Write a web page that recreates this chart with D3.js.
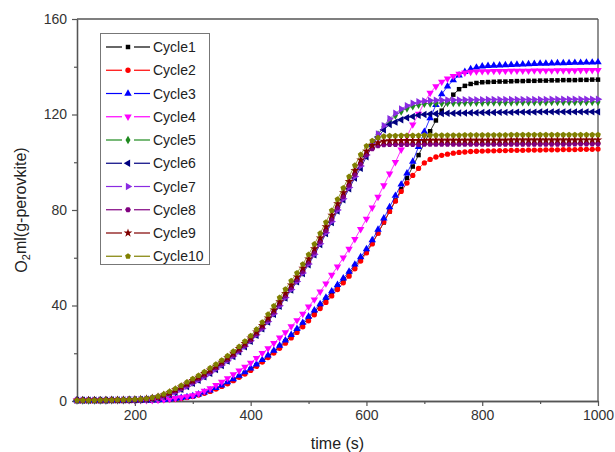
<!DOCTYPE html>
<html>
<head>
<meta charset="utf-8">
<script src="https://cdn.jsdelivr.net/npm/d3@7"></script>
<style>
	body { margin: 0; background: #fff; }
	svg { display: block; font-family: Arial, "Liberation Sans", sans-serif; }
</style>
</head>
<body>
<div id="chart"></div>
<script>

// time points (s)
const times = [100,110,120,130,140,150,160,170,180,190,200,210,220,230,240,250,260,270,280,290,
	300,310,320,330,340,350,360,370,380,390,400,410,420,430,440,450,460,470,480,490,
	500,510,520,530,540,550,560,570,580,590,600,610,620,630,640,650,660,670,680,690,
	700,710,720,730,740,750,760,770,780,790,800,810,820,830,840,850,860,870,880,890,
	900,910,920,930,940,950,960,970,980,990,1000];

// O2 ml/(g-perovkite)
const cycle1 = [0.3,0.3,0.3,0.3,0.3,0.3,0.3,0.3,0.3,0.3,0.3,0.3,0.3,0.3,
	0.4,0.5,0.7,0.9,1.2,1.6,2.0,2.6,3.4,4.2,5.2,6.3,7.5,8.8,10.2,11.7,13.2,14.9,16.7,18.6,
	20.6,22.7,24.9,27.2,29.6,32.1,34.7,37.3,39.9,42.5,45.2,47.9,50.6,53.4,56.3,59.4,
	62.6,66.2,70.3,74.8,79.4,84.0,88.7,93.4,98.2,103.0,108.0,113.0,117.5,121.6,125.3,128.3,
	130.6,132.0,132.8,133.2,133.5,
	133.6,133.7,133.8,133.8,133.9,134.0,134.0,134.1,134.1,134.2,134.2,134.3,134.3,134.4,134.4,134.4,134.5,134.5,134.6,134.6];
const cycle2 = [0.3,0.3,0.3,0.3,0.3,0.3,0.3,0.3,0.3,0.3,0.3,0.3,0.3,0.3,
	0.4,0.5,0.6,0.8,1.1,1.5,1.9,2.5,3.2,4.0,5.0,6.1,7.2,8.5,9.9,11.3,12.8,14.5,16.3,18.2,
	20.1,22.1,24.2,26.4,28.7,31.1,33.6,36.1,38.7,41.3,44.0,46.7,49.5,52.3,55.4,58.6,
	62.0,65.8,70.3,75.0,79.4,83.7,87.8,91.3,94.5,97.4,99.7,101.2,102.2,102.9,103.4,103.8,
	104.1,104.3,104.5,104.6,104.7,
	104.8,104.8,104.9,104.9,105.0,105.0,105.0,105.1,105.1,105.1,105.2,105.2,105.2,105.3,105.3,105.3,105.4,105.4,105.4,105.5];
const cycle3 = [0.3,0.3,0.3,0.3,0.3,0.3,0.3,0.3,0.3,0.3,0.3,0.3,0.3,0.3,
	0.4,0.5,0.7,1.0,1.3,1.7,2.1,2.8,3.6,4.5,5.5,6.6,7.9,9.2,10.6,12.1,13.7,15.4,17.2,19.1,
	21.1,23.2,25.4,27.7,30.2,32.8,35.4,38.0,40.6,43.3,46.0,48.7,51.4,54.2,57.2,60.3,
	63.6,67.4,71.8,76.5,81.2,86.0,90.7,95.4,100.3,106.5,112.8,118.5,124.0,128.5,131.8,134.4,
	136.4,137.9,139.0,139.7,140.2,
	140.4,140.5,140.6,140.7,140.8,140.9,141.0,141.1,141.2,141.3,141.3,141.4,141.5,141.5,141.6,141.7,141.7,141.8,141.8,141.9];
const cycle4 = [0.3,0.3,0.3,0.3,0.3,0.3,0.3,0.3,0.3,0.3,0.3,0.3,0.3,0.3,
	0.4,0.6,0.9,1.2,1.5,1.9,2.3,3.2,4.2,5.3,6.6,8.0,9.5,11.1,12.7,14.3,16.0,18.0,20.0,22.0,
	24.2,26.5,28.7,31.2,33.8,36.5,39.5,42.5,45.8,49.2,52.8,56.3,60.0,63.7,67.8,72.0,
	76.3,81.0,85.5,90.3,95.2,100.0,105.3,110.8,115.8,120.3,125.0,129.0,131.8,133.7,135.0,136.1,
	137.0,137.5,137.8,138.0,138.1,
	138.1,138.2,138.2,138.2,138.3,138.3,138.3,138.3,138.4,138.4,138.4,138.4,138.5,138.5,138.5,138.5,138.6,138.6,138.6,138.6];
const cycle5 = [0.3,0.3,0.3,0.3,0.3,0.3,0.4,0.4,0.4,0.5,0.5,0.6,
	0.8,1.1,1.5,2.1,3.0,4.0,5.2,6.5,7.8,9.2,10.6,12.1,13.7,15.4,17.2,19.1,21.1,23.2,25.5,28.0,
	30.7,33.6,36.8,40.2,43.6,47.0,50.4,53.9,57.7,61.8,66.2,70.8,75.5,80.3,85.0,89.7,94.4,99.0,
	103.5,107.8,111.6,114.8,117.5,119.6,121.3,122.6,123.5,124.1,124.5,124.7,
	124.8,124.8,124.9,124.9,124.9,125.0,125.0,125.0,125.0,125.1,125.1,125.1,125.1,125.1,125.2,
	125.2,125.2,125.2,125.2,125.2,125.3,125.3,125.3,125.3,125.3,125.3,125.3,125.3,125.3];
const cycle6 = [0.3,0.3,0.3,0.3,0.3,0.3,0.4,0.4,0.4,0.5,0.5,0.6,
	0.7,1.0,1.4,1.9,2.7,3.7,4.9,6.1,7.4,8.7,10.1,11.6,13.2,14.9,16.7,18.6,20.6,22.7,25.0,27.5,
	30.2,33.1,36.3,39.7,43.1,46.5,49.9,53.4,57.1,61.2,65.5,70.1,74.8,79.6,84.3,88.9,93.4,97.5,
	102.3,106.8,110.6,113.6,115.8,116.8,117.8,118.6,119.2,119.7,120.0,120.2,
	120.3,120.4,120.5,120.5,120.6,120.6,120.7,120.7,120.8,120.8,120.8,120.9,120.9,120.9,121.0,
	121.0,121.0,121.0,121.1,121.1,121.1,121.1,121.1,121.1,121.1,121.1,121.1,121.1,121.1];
const cycle7 = [0.3,0.3,0.3,0.3,0.3,0.3,0.4,0.4,0.4,0.5,0.5,0.6,
	0.7,1.0,1.4,2.0,2.8,3.8,5.0,6.2,7.5,8.9,10.3,11.8,13.4,15.1,16.9,18.8,20.8,22.9,25.2,27.7,
	30.4,33.3,36.5,39.9,43.3,46.7,50.1,53.6,57.4,61.5,65.9,70.5,75.2,80.0,84.7,89.4,94.0,98.4,
	103.0,107.6,111.8,115.3,118.2,120.5,122.3,123.7,124.7,125.3,125.7,125.9,
	126.0,126.0,126.1,126.1,126.1,126.2,126.2,126.2,126.2,126.3,126.3,126.3,126.3,126.3,126.3,
	126.3,126.3,126.3,126.3,126.3,126.4,126.4,126.4,126.4,126.4,126.4,126.4,126.4,126.4];
const cycle8 = [0.3,0.3,0.3,0.3,0.3,0.3,0.4,0.4,0.4,0.5,0.5,0.6,
	0.8,1.1,1.5,2.2,3.1,4.2,5.4,6.7,8.0,9.4,10.8,12.3,13.9,15.6,17.4,19.3,21.3,23.4,25.7,28.2,
	31.0,34.0,37.3,40.7,44.1,47.5,50.9,54.4,58.2,62.4,66.8,71.4,76.2,81.0,85.7,90.4,95.0,99.4,
	103.2,105.7,106.9,107.3,107.4,
	107.4,107.4,107.4,107.4,107.4,107.5,107.5,107.5,107.5,107.5,107.5,107.5,107.5,107.5,107.5,
	107.5,107.5,107.5,107.5,107.5,107.6,107.6,107.6,107.6,107.6,107.6,107.6,107.6,107.6,107.6,
	107.6,107.7,107.7,107.7,107.7,107.7];
const cycle9 = [0.3,0.3,0.3,0.3,0.3,0.4,0.4,0.4,0.5,0.5,0.6,0.7,
	0.9,1.2,1.7,2.5,3.5,4.7,5.9,7.2,8.6,10.0,11.5,13.0,14.6,16.3,18.1,20.0,22.0,24.1,26.4,28.9,
	31.7,34.8,38.1,41.6,45.1,48.6,52.0,55.6,59.5,63.8,68.3,73.0,77.8,82.6,87.3,92.0,96.6,101.0,
	104.6,107.0,108.2,108.8,109.0,
	109.0,109.1,109.1,109.1,109.1,109.1,109.2,109.2,109.2,109.2,109.2,109.2,109.2,109.2,109.2,
	109.2,109.2,109.2,109.2,109.2,109.3,109.3,109.3,109.3,109.3,109.3,109.3,109.3,109.3,109.3,
	109.3,109.3,109.4,109.4,109.4,109.4];
const cycle10 = [0.3,0.3,0.3,0.3,0.4,0.4,0.4,0.5,0.5,0.6,0.7,0.8,
	1.0,1.4,2.0,2.9,4.0,5.2,6.5,7.9,9.3,10.7,12.2,13.8,15.4,17.1,18.9,20.8,22.8,25.0,27.3,30.0,
	33.0,36.3,39.8,43.3,46.8,50.3,53.6,57.3,61.3,65.7,70.2,74.9,79.8,84.5,89.2,94.0,98.7,103.2,
	106.8,109.0,110.3,110.9,111.1,
	111.1,111.2,111.2,111.2,111.2,111.3,111.3,111.3,111.3,111.3,111.3,111.3,111.4,111.4,111.4,
	111.4,111.4,111.4,111.4,111.4,111.5,111.5,111.5,111.5,111.5,111.5,111.5,111.5,111.5,111.5,
	111.5,111.5,111.5,111.5,111.5,111.5];

const seriesNames = ["Cycle1","Cycle2","Cycle3","Cycle4","Cycle5","Cycle6","Cycle7","Cycle8","Cycle9","Cycle10"];
const seriesValues = [cycle1, cycle2, cycle3, cycle4, cycle5, cycle6, cycle7, cycle8, cycle9, cycle10];
const seriesColors = ["#000000","#ff0000","#0000ff","#ff00ff","#1f8a1f","#000080","#8a2be2","#800080","#800000","#808000"];
const seriesShapes = ["square","circle","triUp","triDown","diamond","triLeft","triRight","hexagon","star","pentagon"];

const xTicks = [200, 400, 600, 800, 1000];
const xMinor = [300, 500, 700, 900];
const yTicks = [0, 40, 80, 120, 160];
const yMinor = [20, 60, 100, 140];

// set the dimensions and margins of the graph
const margin = { top: 19, right: 17, bottom: 51, left: 77 },
	width = 615 - margin.left - margin.right,
	height = 452 - margin.top - margin.bottom;

const svg = d3.select("#chart")
	.append("svg")
	.attr("width", 615)
	.attr("height", 452);

const g = svg.append("g")
	.attr("transform", `translate(${margin.left},${margin.top})`);

const x = d3.scaleLinear().domain([100, 1000]).range([0, width]);
const y = d3.scaleLinear().domain([0, 160]).range([height, 0]);

// polygon symbol with n corners
function polygon(n, rot) {
	return {
		draw(ctx, size) {
			const r = Math.sqrt(size / (n / 2 * Math.sin(2 * Math.PI / n)));
			for (let i = 0; i < n; i++) {
				const a = rot + i * 2 * Math.PI / n;
				const px = r * Math.sin(a), py = -r * Math.cos(a);
				if (i === 0) ctx.moveTo(px, py); else ctx.lineTo(px, py);
			}
			ctx.closePath();
		}
	};
}

const shapeTypes = {
	square: [d3.symbolSquare, 0, 20],
	circle: [d3.symbolCircle, 0, 22],
	triUp: [d3.symbolTriangle, 0, 24],
	triDown: [d3.symbolTriangle, 180, 24],
	diamond: [d3.symbolDiamond, 0, 22],
	triLeft: [d3.symbolTriangle, -90, 24],
	triRight: [d3.symbolTriangle, 90, 24],
	hexagon: [polygon(6, Math.PI / 6), 0, 22],
	star: [d3.symbolStar, 0, 24],
	pentagon: [polygon(5, 0), 0, 22]
};

function marker(sel, shape, color) {
	const [type, rot, size] = shapeTypes[shape];
	sel.attr("d", d3.symbol().type(type).size(size)())
		.attr("fill", color)
		.attr("stroke", "none");
	return rot;
}

// axes
const axisColor = "#555";
g.append("g")
	.attr("transform", `translate(0,${height})`)
	.call(d3.axisBottom(x).tickValues(xTicks).tickFormat(d3.format("d")).tickSize(5).tickPadding(4).tickSizeOuter(0));
g.append("g")
	.attr("transform", `translate(0,${height})`)
	.call(d3.axisBottom(x).tickValues(xMinor).tickSize(3).tickFormat("").tickSizeOuter(0));
g.append("g")
	.call(d3.axisLeft(y).tickValues(yTicks).tickSize(5).tickPadding(5).tickSizeOuter(0));
g.append("g")
	.call(d3.axisLeft(y).tickValues(yMinor).tickSize(3).tickFormat("").tickSizeOuter(0));

g.selectAll(".domain").attr("stroke", axisColor).attr("stroke-width", 1.3);
g.selectAll(".tick line").attr("stroke", axisColor).attr("stroke-width", 1.2);
g.selectAll(".tick text").attr("fill", "#333").style("font-size", "14px");

// frame top and right
g.append("line").attr("x1", 0).attr("x2", width).attr("y1", 0).attr("y2", 0)
	.attr("stroke", axisColor).attr("stroke-width", 1.3);
g.append("line").attr("x1", width).attr("x2", width).attr("y1", 0).attr("y2", height)
	.attr("stroke", axisColor).attr("stroke-width", 1.3);

// curves
const line = d3.line()
	.x((d, i) => x(times[i]))
	.y(d => y(d));

seriesValues.forEach(function (vals, k) {
	const color = seriesColors[k];
	const grp = g.append("g").attr("class", "series " + seriesNames[k]);
	grp.append("path")
		.datum(vals)
		.attr("d", line)
		.attr("fill", "none")
		.attr("stroke", color)
		.attr("stroke-width", 0.8);
	grp.selectAll("path.pt")
		.data(vals)
		.join("path")
		.attr("class", "pt")
		.each(function (d, i) {
			const rot = marker(d3.select(this), seriesShapes[k], color);
			d3.select(this).attr("transform", `translate(${x(times[i])},${y(d)}) rotate(${rot})`);
		});
});

// legend
const legend = svg.append("g").attr("class", "legend");
legend.append("rect")
	.attr("x", 100.5).attr("y", 33.5)
	.attr("width", 109).attr("height", 231)
	.attr("fill", "#fff")
	.attr("stroke", "#777")
	.attr("stroke-width", 1);

seriesNames.forEach(function (name, k) {
	const ly = 47 + k * 23.25;
	const color = seriesColors[k];
	legend.append("line").attr("x1", 106).attr("x2", 122).attr("y1", ly).attr("y2", ly)
		.attr("stroke", color).attr("stroke-width", 1.2);
	legend.append("line").attr("x1", 134).attr("x2", 150).attr("y1", ly).attr("y2", ly)
		.attr("stroke", color).attr("stroke-width", 1.2);
	const m = legend.append("path");
	const rot = marker(m, seriesShapes[k], color);
	m.attr("transform", `translate(128,${ly}) rotate(${rot})`);
	legend.append("text")
		.attr("x", 153).attr("y", ly)
		.attr("dy", "0.36em")
		.attr("fill", "#222")
		.style("font-size", "14px")
		.text(name);
});

// axis titles
svg.append("text")
	.attr("x", margin.left + width / 2)
	.attr("y", 449)
	.attr("text-anchor", "middle")
	.attr("fill", "#222")
	.style("font-size", "16px")
	.text("time (s)");

const yt = svg.append("text")
	.attr("transform", `translate(27,${margin.top + height / 2}) rotate(-90)`)
	.attr("text-anchor", "middle")
	.attr("fill", "#222")
	.style("font-size", "16px");
yt.append("tspan").text("O");
yt.append("tspan").attr("dy", "0.3em").style("font-size", "11px").text("2");
yt.append("tspan").attr("dy", "-0.3em").text("ml(g-perovkite)");

</script>
</body>
</html>
